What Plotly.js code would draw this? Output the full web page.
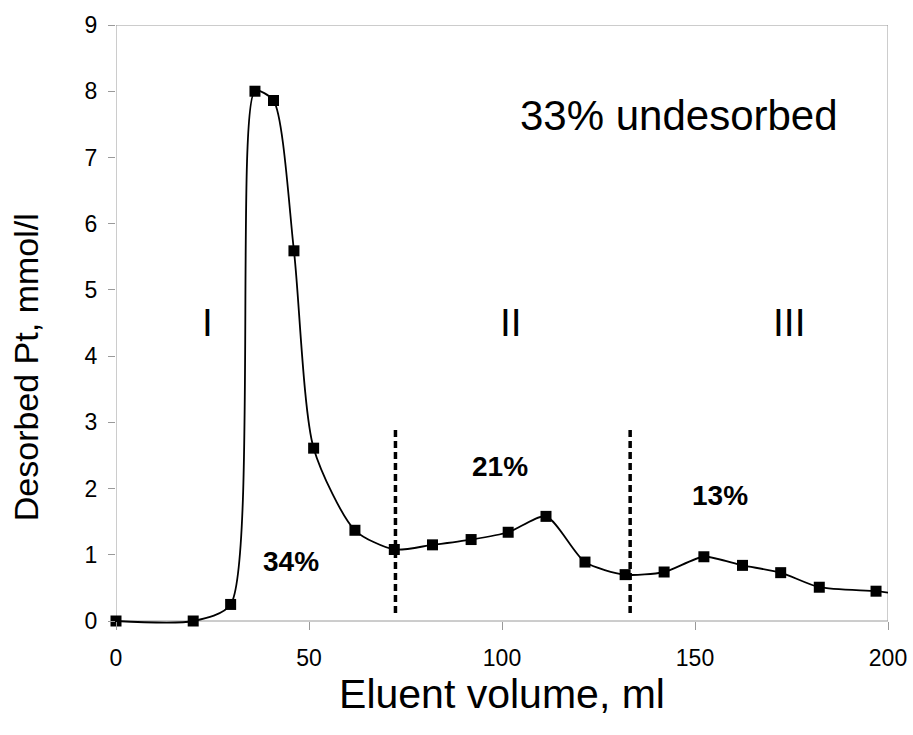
<!DOCTYPE html>
<html>
<head>
<meta charset="utf-8">
<script src="https://cdn.plot.ly/plotly-3.0.1.min.js"></script>
<style>html,body{margin:0;padding:0;background:#fff;}#chart{width:913px;height:735px;}</style>
</head>
<body>
<div id="chart"></div>
<script>
// Measured points (eluent volume, ml ; desorbed Pt, mmol/l)
var volume = [0, 20, 29.7, 36, 40.8, 46.1, 51.2, 61.9, 72.1, 82, 92, 101.6, 111.4, 121.5, 131.9, 142, 152.3, 162.3, 172.2, 182.2, 196.9];
var pt     = [0, 0, 0.25, 8.0, 7.86, 5.59, 2.61, 1.37, 1.08, 1.15, 1.23, 1.34, 1.58, 0.89, 0.70, 0.74, 0.97, 0.84, 0.73, 0.51, 0.45];
// tail of the smoothed curve beyond the last marker
var tailVolume = [201];
var tailPt = [0.42];
// fraction boundaries (dashed lines)
var boundaries = [72.4, 133.2];
var boundaryTop = 2.93;
var boundaryBottom = 0.12;
// fraction labels
var romanLabels = ["I", "II", "III"];
var romanX = [23.6, 102.3, 174.4];
var romanY = 4.51;
var percentLabels = ["34%", "21%", "13%"];
var percentX = [45.3, 99.5, 156.5];
var percentY = [0.9, 2.33, 1.89];
var noteText = "33% undesorbed";
var xTitle = "Eluent volume, ml";
var yTitle = "Desorbed Pt, mmol/l";

var FONT = "Arial, 'Liberation Sans', sans-serif";
var GRAY = "#9a9a9a";
var yMin = -0.0755, yMax = 9;

var curveX = volume.concat(tailVolume);
var curveY = pt.concat(tailPt);

var traces = [
  {x: curveX, y: curveY, mode: "lines", type: "scatter",
   line: {color: "#000", width: 1.8, shape: "spline", smoothing: 0.7},
   hoverinfo: "skip", showlegend: false},
  {x: volume, y: pt, mode: "markers", type: "scatter", cliponaxis: false,
   marker: {symbol: "square", size: 11, color: "#000"}, showlegend: false}
];

var shapes = [
  {type: "rect", xref: "x", yref: "y", x0: 0, x1: 200, y0: 0, y1: yMax, layer: "below",
   line: {color: GRAY, width: 1}, fillcolor: "rgba(0,0,0,0)"}
];
boundaries.forEach(function(b){
  shapes.push({type: "line", xref: "x", yref: "y", x0: b, x1: b, y0: boundaryBottom, y1: boundaryTop,
          line: {color: "#000", width: 3.5, dash: "7px,4px"}});
});

var annotations = [];
romanLabels.forEach(function(t, i){
  annotations.push({x: romanX[i], y: romanY, xref: "x", yref: "y", text: t, showarrow: false,
    font: {family: FONT, size: 39, color: "#000"}});
});
percentLabels.forEach(function(t, i){
  annotations.push({x: percentX[i], y: percentY[i], xref: "x", yref: "y", text: "<b>" + t + "</b>", showarrow: false,
    font: {family: FONT, size: 28, color: "#000"}});
});
annotations.push({x: 145.8, y: 7.63, xref: "x", yref: "y", text: noteText, showarrow: false,
  font: {family: FONT, size: 42, color: "#000"}});
annotations.push({xref: "paper", yref: "paper", x: -0.117, y: 0.43, text: yTitle,
  textangle: -90, showarrow: false, xanchor: "center", yanchor: "middle",
  font: {family: FONT, size: 34, color: "#000"}});

var layout = {
  width: 913, height: 735,
  margin: {l: 116, r: 25, t: 25, b: 109},
  paper_bgcolor: "#fff", plot_bgcolor: "#fff",
  font: {family: FONT, color: "#000"},
  showlegend: false,
  xaxis: {range: [0, 200], dtick: 50, tick0: 0, showgrid: false, zeroline: false,
    anchor: "free", position: (0 - yMin) / (yMax - yMin),
    showline: false,
    ticks: "outside", ticklen: 8, tickcolor: GRAY, ticklabelstandoff: 8,
    tickfont: {family: FONT, size: 23, color: "#000"},
    title: {text: xTitle, font: {family: FONT, size: 41, color: "#000"}, standoff: 0}},
  yaxis: {range: [yMin, yMax], tickvals: [0,1,2,3,4,5,6,7,8,9], showgrid: false, zeroline: false,
    showline: false,
    ticks: "outside", ticklen: 7, tickcolor: GRAY, ticklabelstandoff: 6,
    tickfont: {family: FONT, size: 23, color: "#000"}},
  shapes: shapes,
  annotations: annotations
};

Plotly.newPlot("chart", traces, layout, {displayModeBar: false, staticPlot: true});
</script>
</body>
</html>
